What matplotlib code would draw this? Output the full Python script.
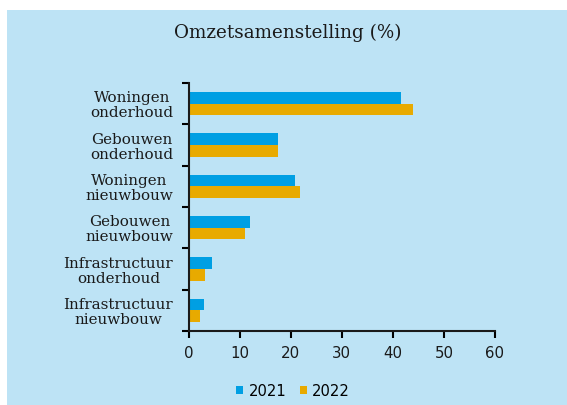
import matplotlib
matplotlib.use("Agg")
import matplotlib.pyplot as plt
import numpy as np
from matplotlib.patches import Rectangle

categories = ["Woningen\nonderhoud", "Gebouwen\nonderhoud", "Woningen\nnieuwbouw",
              "Gebouwen\nnieuwbouw", "Infrastructuur\nonderhoud", "Infrastructuur\nnieuwbouw"]
series_names = ["2021", "2022"]
values_2021 = [41.6, 17.5, 20.8, 12.0, 4.5, 3.1]
values_2022 = [44.0, 17.5, 21.9, 11.0, 3.3, 2.2]
x_ticks = [0, 10, 20, 30, 40, 50, 60]
title = "Omzetsamenstelling (%)"

bg = "#BDE3F5"
c2021 = "#009FE3"
c2022 = "#E8AA00"
txt = "#1a1a1a"

fig = plt.figure(figsize=(5.67, 4.05), dpi=100, facecolor="white")
fig.patches.append(Rectangle((7/567, 0), 1 - 7/567, 1 - 10/405, transform=fig.transFigure,
                             facecolor=bg, edgecolor="none", zorder=-10))
ax = fig.add_axes([0.3325, 0.1827, 0.873 - 0.3325, 0.795 - 0.1827])
ax.patch.set_alpha(0)

n = len(categories)
y = np.arange(n)
h = 0.28
ax.barh(y - h/2, values_2021, height=h, color=c2021, label=series_names[0])
ax.barh(y + h/2, values_2022, height=h, color=c2022, label=series_names[1])
ax.set_ylim(n - 0.5, -0.5)
ax.set_xlim(0, 60)
ax.set_xticks(x_ticks)
ax.set_xticklabels([str(t) for t in x_ticks], fontsize=10.8, family="DejaVu Sans", color=txt)

ax.set_yticks(np.arange(n + 1) - 0.5)
ax.set_yticklabels([])
ax.set_yticks(y, minor=True)
ax.set_yticklabels(categories, minor=True, family="DejaVu Serif", fontsize=10.9,
                   color=txt, ha="right", multialignment="center", linespacing=1.1)
ax.tick_params(axis="y", which="minor", length=0, pad=11)
ax.tick_params(axis="y", which="major", length=5, width=1.5, direction="out")
ax.tick_params(axis="x", length=5, width=1.5, direction="out", pad=6)

for s in ["top", "right"]:
    ax.spines[s].set_visible(False)
for s in ["left", "bottom"]:
    ax.spines[s].set_linewidth(1.5)
    ax.spines[s].set_color(txt)

fig.text(288/567, 1 - 33/405, title, ha="center", va="center", family="DejaVu Serif",
         fontsize=13.2, color=txt, weight="medium")

leg = fig.legend(loc="center", bbox_to_anchor=(293/567, 1 - 391/405), ncol=2, frameon=False,
                 prop={"family": "DejaVu Sans", "size": 10.6}, handlelength=0.5, handleheight=0.5,
                 handletextpad=0.35, columnspacing=0.9)

fig.savefig("out.png", dpi=100, facecolor="white")
